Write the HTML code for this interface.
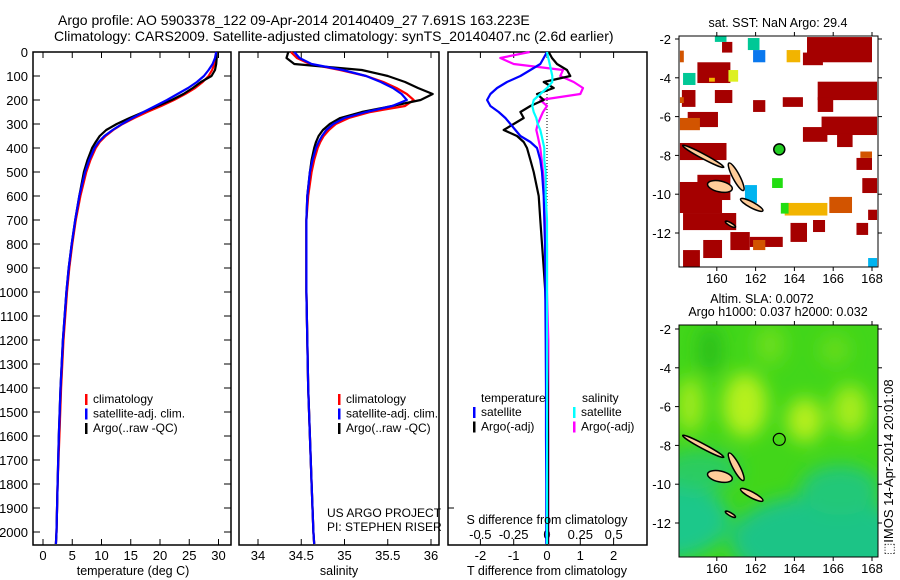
<!DOCTYPE html>
<html><head><meta charset="utf-8"><style>
html,body{margin:0;padding:0;background:#fff;}
svg{display:block;font-family:"Liberation Sans",sans-serif;}
text{fill:#000;}
</style></head><body>
<svg id="fig" width="900" height="580" viewBox="0 0 900 580" xmlns="http://www.w3.org/2000/svg">
<defs>
<filter id="blur8" x="-50%" y="-50%" width="200%" height="200%"><feGaussianBlur stdDeviation="9"/></filter>
<clipPath id="clipB"><rect x="679" y="325" width="199" height="232"/></clipPath>
<clipPath id="clipA"><rect x="679" y="36" width="199" height="231"/></clipPath>
</defs>
<text x="58" y="25" font-size="14">Argo profile: AO 5903378_122 09-Apr-2014 20140409_27 7.691S 163.223E</text>
<text x="54" y="41" font-size="14">Climatology: CARS2009. Satellite-adjusted climatology: synTS_20140407.nc (2.6d earlier)</text>
<g id="g1"></g>
<g id="g2"></g>
<g id="g3"></g>
<g id="gm1"></g>
<g id="gm2"></g>
<text transform="translate(893,555) rotate(-90)" font-size="13">⬚IMOS 14-Apr-2014 20:01:08</text>
</svg>
<script>
const depths = [0,25,50,75,100,125,150,175,200,225,250,275,300,325,350,375,400,450,500,600,700,800,900,1000,1200,1400,1600,1800,2000,2050];
const tempClim = [29.6,29.5,29.3,28.9,28.3,27.3,26.0,24.3,22.4,20.2,17.8,15.6,13.6,12.0,10.7,9.7,9.0,8.1,7.4,6.4,5.6,5.0,4.5,4.1,3.5,3.1,2.8,2.5,2.3,2.2];
const tempSat = [29.6,29.4,29.0,28.3,27.5,26.3,24.8,23.0,21.2,19.2,17.2,15.3,13.5,11.9,10.5,9.5,8.8,7.9,7.2,6.2,5.5,4.9,4.4,4.0,3.4,3.0,2.7,2.5,2.3,2.2];
const tempArgo = [29.7,29.7,29.6,29.4,28.8,27.0,25.6,24.0,22.0,19.6,17.2,14.8,12.6,10.8,9.7,9.0,8.4,7.6,7.0,6.2,5.5,4.9,4.4,4.0,3.4,3.0,2.7,2.5,2.3,2.2];
const salClim = [34.38,34.45,34.6,34.95,35.25,35.45,35.6,35.72,35.8,35.7,35.3,35.05,34.9,34.82,34.76,34.72,34.69,34.65,34.62,34.58,34.56,34.56,34.56,34.56,34.57,34.58,34.6,34.62,34.64,34.65];
const salSat = [34.42,34.48,34.62,34.98,35.25,35.42,35.56,35.66,35.72,35.55,35.25,35.0,34.87,34.79,34.74,34.7,34.67,34.63,34.6,34.57,34.56,34.56,34.56,34.56,34.57,34.58,34.6,34.62,34.64,34.65];
const salArgo = [34.35,34.33,34.42,35.2,35.5,35.7,35.85,36.02,35.88,35.55,35.2,34.95,34.83,34.75,34.7,34.67,34.65,34.62,34.6,34.57,34.56,34.56,34.56,34.56,34.57,34.58,34.6,34.62,34.64,34.65];
const dTsat = [0,-0.1,-0.2,-0.5,-0.8,-1.2,-1.5,-1.7,-1.8,-1.7,-1.45,-1.25,-1.1,-0.95,-0.8,-0.5,-0.3,-0.2,-0.15,-0.1,-0.08,-0.06,-0.05,-0.05,-0.04,-0.03,-0.03,-0.02,-0.02,-0.02];
const dTargo = [0.05,0.15,0.3,0.6,0.7,-0.1,0.2,-0.3,-0.1,-0.5,-0.8,-0.7,-1.0,-1.3,-0.9,-0.7,-0.6,-0.5,-0.4,-0.25,-0.2,-0.15,-0.1,-0.05,0,0.02,0.03,0.03,0.03,0.03];
const dSsat = [0,0.01,0.02,0.03,0.04,0.04,0.0,-0.05,-0.1,-0.11,-0.1,-0.08,-0.07,-0.05,-0.04,-0.03,-0.02,-0.02,-0.01,-0.01,0,0,0,0,0,0,0,0,0,0];
const dSargo = [-0.13,-0.35,-0.25,0.12,0.1,0.2,0.27,0.25,-0.05,0.0,-0.03,-0.05,-0.07,-0.08,-0.07,-0.06,-0.05,-0.04,-0.03,-0.02,-0.01,0,0,0,0.01,0.01,0.01,0.01,0.01,0.01];
const depthTicks = [0,100,200,300,400,500,600,700,800,900,1000,1100,1200,1300,1400,1500,1600,1700,1800,1900,2000];
const tempTicks = [0,5,10,15,20,25,30];
const salTicks = [34,34.5,35,35.5,36];
const salTickLabels = ["34","34.5","35","35.5","36"];
const tdTicks = [-2,-1,0,1,2];
const sdTicks = [-0.5,-0.25,0,0.25,0.5];
const sdTickLabels = ["-0.5","-0.25","0","0.25","0.5"];
const lonTicks = [160,162,164,166,168];
const latTicks = [-2,-4,-6,-8,-10,-12];
const sstCells = [
[160.27,-2.15,160.8,-2.7,'R'],[164.65,-1.9,168.0,-3.2,'R'],[164.44,-2.7,165.47,-3.35,'R'],
[159.0,-3.2,160.7,-4.27,'R'],[158.2,-4.63,158.9,-5.5,'R'],[159.9,-4.63,160.8,-5.3,'R'],
[161.87,-5.15,162.5,-5.76,'R'],[163.4,-5.0,164.44,-5.5,'R'],[165.2,-4.2,168.26,-5.15,'R'],
[165.2,-5.0,166.0,-5.76,'R'],[158.5,-5.76,160.06,-6.54,'R'],[158.1,-6.07,159.13,-6.7,'O'],
[164.44,-6.54,165.7,-7.3,'R'],[165.4,-6.0,168.26,-6.95,'R'],[166.2,-6.85,167.0,-7.57,'R'],
[158.1,-7.36,160.5,-8.24,'R'],[167.2,-8.13,168.0,-8.75,'R'],[158.1,-9.37,160.27,-10.97,'R'],
[159.0,-9.0,160.7,-10.3,'R'],[158.26,-10.97,161.0,-11.85,'R'],[167.5,-9.17,168.26,-9.94,'R'],
[160.7,-11.95,161.7,-12.88,'R'],[161.7,-12.2,163.4,-12.72,'R'],[159.3,-12.36,160.27,-13.29,'R'],
[163.8,-11.48,164.65,-12.46,'R'],[164.96,-11.33,165.58,-11.95,'R'],[167.2,-11.48,167.8,-12.1,'R'],
[167.8,-10.8,168.26,-11.33,'R'],[158.26,-12.88,159.13,-13.75,'R'],
[165.8,-10.14,166.97,-10.97,'O'],[163.5,-10.45,165.7,-11.1,'Y'],[163.6,-2.57,164.3,-3.2,'Y'],
[161.87,-12.36,162.5,-12.88,'O'],[167.4,-7.8,168.0,-8.13,'O'],[160.6,-3.6,161.1,-4.2,'L'],
[159.9,-1.8,160.5,-2.15,'T'],[161.6,-1.95,162.2,-2.57,'T'],[158.26,-3.75,158.9,-4.37,'T'],
[161.87,-2.57,162.5,-3.2,'B'],[162.85,-9.17,163.4,-9.68,'G'],[163.3,-10.45,163.7,-11.0,'G'],
[161.45,-9.53,162.07,-10.45,'C'],[167.8,-13.29,168.26,-13.75,'C'],[158.1,-5.0,158.3,-5.3,'O'],
[158.1,-2.6,158.3,-3.2,'O'],[159.6,-4.0,159.9,-4.2,'Y']
];
const cellColors = {R:'#a50000',O:'#d25400',Y:'#f2b400',T:'#00c896',B:'#0a78ee',G:'#22dd11',C:'#00b4f0',L:'#ddf020'};
const islands = [[159.3,-8.05,1.2,0.12,28],[160.16,-9.6,0.65,0.28,12],[161.0,-9.1,0.8,0.18,62],[161.8,-10.55,0.65,0.15,28],[160.7,-11.55,0.3,0.08,30]];
const argoLon = 163.22, argoLat = -7.69;

const NS='http://www.w3.org/2000/svg';
function mk(parent, tag, attrs, name, text){
  const e=document.createElementNS(NS,tag);
  for(const k in attrs) e.setAttribute(k,attrs[k]);
  
  
  if(text!==undefined) e.textContent=text;
  parent.appendChild(e); return e;
}
const TOP=52, BOT=545;
const yD = d => TOP + d*0.24;
const xT = t => 43 + t*5.85;
const xS = s => 258 + (s-34)*86.5;
const xTd = t => 547 + t*33.3;
const xSd = s => 547 + s*133.3;

function line(g, xs, xf, color, name){
  let d='';
  depths.forEach((dep,i)=>{ d += (i?'L':'M') + xf(xs[i]).toFixed(1) + ' ' + Math.min(yD(dep),BOT).toFixed(1); });
  mk(g,'path',{d:d,fill:'none',stroke:color,'stroke-width':2.2,'stroke-linejoin':'round'},name);
}
function frame(g,x0,x1,name){ mk(g,'rect',{x:x0,y:TOP,width:x1-x0,height:BOT-TOP,fill:'none',stroke:'#000','stroke-width':1.5},name); }
function legend(g,x,y,items){
  items.forEach((it,i)=>{
    mk(g,'rect',{x:x,y:y+i*14.5-9,width:2.5,height:11,fill:it[1]},'legend-swatch');
    mk(g,'text',{x:x+8,y:y+i*14.5,'font-size':12},'legend-entry',it[0]);
  });
}

const g1=document.getElementById('g1');
frame(g1,33,231,'temperature-axes-frame');
depthTicks.forEach(d=>{
  mk(g1,'line',{x1:33,x2:40,y1:yD(d),y2:yD(d),stroke:'#000'},'depth-tick');
  mk(g1,'line',{x1:224,x2:231,y1:yD(d),y2:yD(d),stroke:'#000'},'depth-tick');
  mk(g1,'text',{x:28,y:yD(d)+5,'font-size':13,'text-anchor':'end'},'depth-tick-label',String(d));
});
tempTicks.forEach(t=>{
  mk(g1,'line',{x1:xT(t),x2:xT(t),y1:BOT,y2:BOT-6,stroke:'#000'},'temp-tick');
  mk(g1,'line',{x1:xT(t),x2:xT(t),y1:TOP,y2:TOP+6,stroke:'#000'},'temp-tick');
  mk(g1,'text',{x:xT(t),y:560,'font-size':13,'text-anchor':'middle'},'temp-tick-label',String(t));
});
line(g1,tempClim,xT,'#ff0000','temp-climatology-line');
line(g1,tempArgo,xT,'#000000','temp-argo-line');
line(g1,tempSat,xT,'#0000ff','temp-satellite-line');
legend(g1,85,403,[['climatology','#ff0000'],['satellite-adj. clim.','#0000ff'],['Argo(..raw -QC)','#000']]);
mk(g1,'text',{x:133,y:575,'font-size':12.5,'text-anchor':'middle'},'temperature-axis-title','temperature (deg C)');

const g2=document.getElementById('g2');
frame(g2,239,439,'salinity-axes-frame');
salTicks.forEach((s,i)=>{
  mk(g2,'line',{x1:xS(s),x2:xS(s),y1:BOT,y2:BOT-6,stroke:'#000'},'sal-tick');
  mk(g2,'line',{x1:xS(s),x2:xS(s),y1:TOP,y2:TOP+6,stroke:'#000'},'sal-tick');
  mk(g2,'text',{x:xS(s),y:560,'font-size':13,'text-anchor':'middle'},'sal-tick-label',salTickLabels[i]);
});
line(g2,salClim,xS,'#ff0000','sal-climatology-line');
line(g2,salArgo,xS,'#000000','sal-argo-line');
line(g2,salSat,xS,'#0000ff','sal-satellite-line');
legend(g2,338,403,[['climatology','#ff0000'],['satellite-adj. clim.','#0000ff'],['Argo(..raw -QC)','#000']]);
mk(g2,'text',{x:327,y:517,'font-size':12},'project-label','US ARGO PROJECT');
mk(g2,'text',{x:327,y:531,'font-size':12},'pi-label','PI: STEPHEN RISER');
mk(g2,'text',{x:339,y:575,'font-size':12.5,'text-anchor':'middle'},'salinity-axis-title','salinity');

const g3=document.getElementById('g3');
frame(g3,448,647,'difference-axes-frame');
tdTicks.forEach(t=>{
  mk(g3,'line',{x1:xTd(t),x2:xTd(t),y1:BOT,y2:BOT-6,stroke:'#000'},'tdiff-tick');
  mk(g3,'line',{x1:xTd(t),x2:xTd(t),y1:TOP,y2:TOP+6,stroke:'#000'},'tdiff-tick');
  mk(g3,'text',{x:xTd(t),y:560,'font-size':13,'text-anchor':'middle'},'tdiff-tick-label',String(t));
});
mk(g3,'line',{x1:448,x2:454,y1:yD(1900),y2:yD(1900),stroke:'#000'},'depth-tick');
sdTicks.forEach((s,i)=>{
  mk(g3,'text',{x:xSd(s),y:539,'font-size':13,'text-anchor':'middle'},'sdiff-tick-label',sdTickLabels[i]);
});
mk(g3,'line',{x1:xTd(0),x2:xTd(0),y1:yD(150),y2:yD(900),stroke:'#000','stroke-dasharray':'1 2'},'zero-reference-line');
line(g3,dSargo,xSd,'#ff00ff','sdiff-argo-line');
line(g3,dTargo,xTd,'#000000','tdiff-argo-line');
line(g3,dTsat,xTd,'#0000ff','tdiff-satellite-line');
line(g3,dSsat,xSd,'#00ffff','sdiff-satellite-line');
mk(g3,'text',{x:481,y:402,'font-size':12},'legend-heading-temperature','temperature');
mk(g3,'text',{x:582,y:402,'font-size':12},'legend-heading-salinity','salinity');
legend(g3,473,416,[['satellite','#0000ff'],['Argo(-adj)','#000']]);
legend(g3,573,416,[['satellite','#00ffff'],['Argo(-adj)','#ff00ff']]);
mk(g3,'text',{x:547,y:524,'font-size':12.5,'text-anchor':'middle'},'sdiff-axis-title','S difference from climatology');
mk(g3,'text',{x:547,y:575,'font-size':12.5,'text-anchor':'middle'},'tdiff-axis-title','T difference from climatology');

const lonX = lon => 678 + (lon-158)*19.4;
const latY1 = lat => 39 + (-2-lat)*19.4;
const latY2 = lat => 329 + (-2-lat)*19.4;
function mapAxes(g,latY,y0,y1,name){
  mk(g,'rect',{x:679,y:y0,width:199,height:y1-y0,fill:'none',stroke:'#000','stroke-width':1},name);
  lonTicks.forEach(l=>{
    mk(g,'line',{x1:lonX(l),x2:lonX(l),y1:y0,y2:y0-4,stroke:'#000'},'lon-tick');
    mk(g,'line',{x1:lonX(l),x2:lonX(l),y1:y1,y2:y1+4,stroke:'#000'},'lon-tick');
    mk(g,'text',{x:lonX(l),y:y1+16,'font-size':13,'text-anchor':'middle'},'lon-tick-label',String(l));
  });
  latTicks.forEach(l=>{
    mk(g,'line',{x1:675,x2:679,y1:latY(l),y2:latY(l),stroke:'#000'},'lat-tick');
    mk(g,'line',{x1:878,x2:882,y1:latY(l),y2:latY(l),stroke:'#000'},'lat-tick');
    mk(g,'text',{x:671,y:latY(l)+5,'font-size':13,'text-anchor':'end'},'lat-tick-label',String(l));
  });
}
function drawIslands(g,latY){
  islands.forEach(is=>{
    const cx=lonX(is[0]), cy=latY(is[1]);
    mk(g,'ellipse',{cx:cx,cy:cy,rx:is[2]*19.4,ry:is[3]*19.4,transform:`rotate(${is[4]} ${cx} ${cy})`,fill:'#ffcc99',stroke:'#000','stroke-width':1.5},'island');
  });
}
const gm1=document.getElementById('gm1');
mk(gm1,'text',{x:778,y:27,'font-size':12.5,'text-anchor':'middle'},'sst-map-title','sat. SST: NaN Argo: 29.4');
const c1=mk(gm1,'g',{'clip-path':'url(#clipA)'},'sst-cells');
sstCells.forEach(c=>{
  mk(c1,'rect',{x:lonX(c[0]),y:latY1(c[1]),width:lonX(c[2])-lonX(c[0]),height:latY1(c[3])-latY1(c[1]),fill:cellColors[c[4]]},'sst-cell');
});
drawIslands(c1,latY1);
mk(gm1,'circle',{cx:lonX(argoLon),cy:latY1(argoLat),r:5.5,fill:'#22cc22',stroke:'#000','stroke-width':1.5},'argo-location-marker');
mapAxes(gm1,latY1,36,267,'sst-map-frame');

const gm2=document.getElementById('gm2');
mk(gm2,'text',{x:762,y:303,'font-size':12.5,'text-anchor':'middle'},'sla-map-title-1','Altim. SLA: 0.0072');
mk(gm2,'text',{x:778,y:316,'font-size':12.5,'text-anchor':'middle'},'sla-map-title-2','Argo h1000: 0.037 h2000: 0.032');
const c2=mk(gm2,'g',{'clip-path':'url(#clipB)'},'sla-field');
mk(c2,'rect',{x:679,y:325,width:199,height:232,fill:'#42d61a'},'sla-background');
const blobs=mk(c2,'g',{filter:'url(#blur8)'},'sla-blobs');
[[660,520,70,40,'#1cc88a'],[820,540,90,45,'#1cc486'],[840,490,40,25,'#22c878'],[700,470,40,20,'#2ccc60'],
 [710,350,12,25,'#2cbf1a'],[690,405,14,28,'#9eea1a'],[745,405,22,32,'#b6f01a'],[805,420,18,22,'#b6ef1a'],
 [850,410,18,25,'#a6ec1a'],[770,345,15,20,'#6ade1a'],[835,350,15,15,'#66dc1a']].forEach(b=>{
  mk(blobs,'ellipse',{cx:b[0],cy:b[1],rx:b[2],ry:b[3],fill:b[4]},'sla-anomaly-blob');
});
drawIslands(c2,latY2);
mk(gm2,'circle',{cx:lonX(argoLon),cy:latY2(argoLat),r:6,fill:'none',stroke:'#000','stroke-width':1.2},'argo-location-marker');
mapAxes(gm2,latY2,325,557,'sla-map-frame');
</script>
</body></html>
